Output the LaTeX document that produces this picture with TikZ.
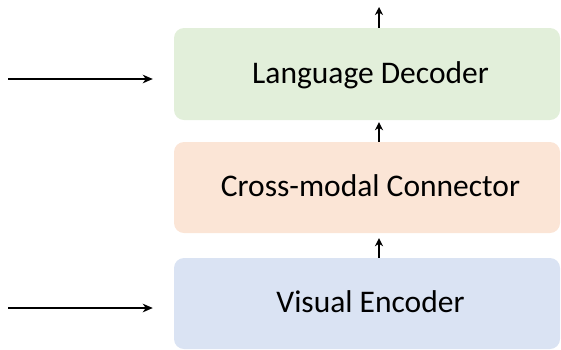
\documentclass[tikz,border=0pt]{standalone}
\usepackage{fontspec}
\setmainfont{Carlito}
\usetikzlibrary{arrows.meta}
\definecolor{decfill}{HTML}{E2EFDA}
\definecolor{confill}{HTML}{FBE5D6}
\definecolor{encfill}{HTML}{DAE3F3}
\tikzset{
  blockbox/.style={rounded corners=10pt, minimum width=386pt, inner sep=0pt, draw=none},
  blocktext/.style={anchor=base, inner sep=0pt, font=\fontsize{31.5}{36}\selectfont},
  flow/.style={line width=1.9pt, -{Stealth[length=8pt,width=8pt,inset=2.5pt]}},
  inflow/.style={line width=1.9pt, -{Stealth[length=10pt,width=8.5pt,inset=3pt]}}
}
\begin{document}
\begin{tikzpicture}[x=1pt,y=-1pt]
\useasboundingbox (0,0) rectangle (561,349);
\node[blockbox, fill=decfill, minimum height=92pt] (dec) at (367,74) {};
\node[blockbox, fill=confill, minimum height=91pt] (con) at (367,187.5) {};
\node[blockbox, fill=encfill, minimum height=91pt] (enc) at (367,303.5) {};
\node[blocktext] (dect) at (370.5,83) {Language Decoder};
\node[blocktext] (cont) at (370.5,196) {Cross-modal Connector};
\node[blocktext] (enct) at (370.5,312) {Visual Encoder};
\coordinate (out) at (379,7);
\coordinate (in1) at (8,79);
\coordinate (in2) at (8,308);
\draw[flow] (dec.north -| out) -- (out);
\draw[flow, shorten >=2pt] (con.north -| out) -- (dec.south -| out);
\draw[flow, shorten >=5pt] (enc.north -| out) -- (con.south -| out);
\draw[inflow, shorten >=21pt] (in1) -- (in1 -| dec.west);
\draw[inflow, shorten >=21pt] (in2) -- (in2 -| enc.west);
\end{tikzpicture}
\end{document}
